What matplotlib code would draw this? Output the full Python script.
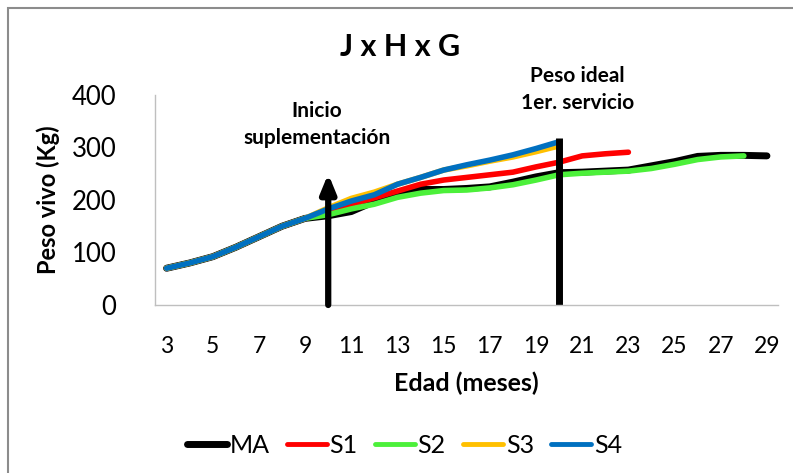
import matplotlib
matplotlib.use('Agg')
import matplotlib.pyplot as plt
import numpy as np

plt.rcParams['font.family'] = ['Lato', 'DejaVu Sans']

# edad en meses y peso vivo (kg) de cada grupo
meses = list(range(3, 30))
MA = [70, 80, 92, 110, 130, 150, 165, 170, 178, 197, 212, 220, 220, 222, 225,
      234, 244, 252, 253, 255, 257, 265, 273, 283, 285, 285, 284]
S1 = [70, 80, 92, 110, 130, 150, 165, 178, 192, 204, 217, 230, 238, 243, 248,
      253, 263, 272, 284, 288, 291]
S2 = [70, 80, 92, 110, 130, 150, 165, 172, 183, 192, 205, 213, 218, 219, 223,
      229, 238, 248, 251, 253, 255, 260, 268, 277, 282, 284]
S3 = [70, 80, 92, 110, 130, 150, 165, 185, 203, 215, 230, 243, 257, 265, 274,
      282, 292, 303]
S4 = [70, 80, 92, 110, 130, 150, 165, 183, 198, 210, 230, 243, 257, 267, 276,
      286, 298, 311]
etiquetas_x = list(range(3, 30, 2))

series = [('MA', MA, 'black', 5),
          ('S1', S1, '#ff0000', 4),
          ('S2', S2, '#4cf03a', 4),
          ('S3', S3, '#ffc000', 4),
          ('S4', S4, '#0070c0', 4)]

fig = plt.figure(figsize=(7.93, 4.73), dpi=100)
ax = fig.add_axes([0.1955, 0.3552, 0.7862, 0.444])

for nombre, y, color, lw in series:
    ax.plot(meses[:len(y)], y, color=color, lw=lw, label=nombre,
            solid_capstyle='round')

# linea de peso ideal al primer servicio
ax.plot([20, 20], [0, 318], color='black', lw=5, solid_capstyle='butt')
# flecha de inicio de suplementacion
ax.annotate('', xy=(10, 250), xytext=(10, 0),
            arrowprops=dict(arrowstyle='-|>,head_width=0.45,head_length=1.1',
                            color='black', lw=4.5, shrinkA=0, shrinkB=0))

ax.text(9.5, 388, 'Inicio\nsuplementación', ha='center', va='top',
        fontsize=15, fontweight='bold', linespacing=1.45)
ax.text(20.8, 455, 'Peso ideal\n1er. servicio', ha='center', va='top',
        fontsize=15, fontweight='bold', linespacing=1.45, clip_on=False)

ax.set_xlim(2.5, 29.5)
ax.set_ylim(0, 400)
ax.set_xticks(etiquetas_x)
ax.set_yticks([0, 100, 200, 300, 400])
ax.tick_params(length=0, colors='black')
ax.tick_params(axis='y', pad=28, labelsize=18.5)
ax.tick_params(axis='x', pad=22, labelsize=16.5)
for s in ['top', 'right']:
    ax.spines[s].set_visible(False)
for s in ['left', 'bottom']:
    ax.spines[s].set_color('#bfbfbf')
    ax.spines[s].set_linewidth(1)

ax.set_xlabel('Edad (meses)', fontsize=18, fontweight='bold', labelpad=11)
ax.set_ylabel('Peso vivo (Kg)', fontsize=17, fontweight='bold', labelpad=8)

fig.text(0.505, 0.9, 'J x H x G', ha='center', va='center',
         fontsize=22, fontweight='bold')

leg = fig.legend(loc='center', bbox_to_anchor=(0.51, 0.059), ncol=5,
                 frameon=False, fontsize=18, handlelength=1.6,
                 handletextpad=0.1, columnspacing=0.7)
for h in leg.get_lines()[1:]:
    h.set_linewidth(3.5)

# marco del grafico
fig.patches.append(plt.Rectangle((8 / 793, -0.01), 1.0, 1 - 8.5 / 473 + 0.01,
                                 transform=fig.transFigure, fill=False,
                                 edgecolor='#8c8c8c', lw=1.5))

fig.savefig('out.png', dpi=100)
